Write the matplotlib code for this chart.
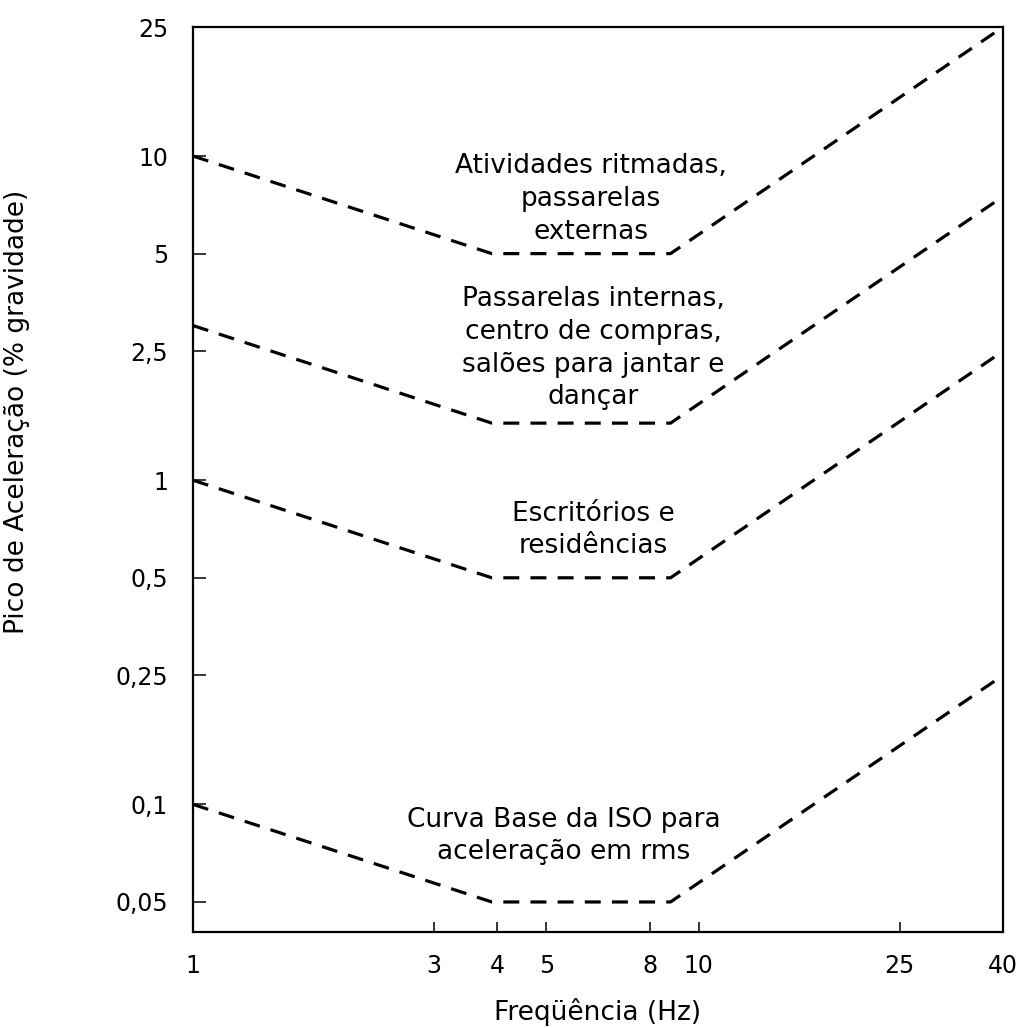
import matplotlib
matplotlib.use("Agg")
import matplotlib.pyplot as plt
from matplotlib.ticker import FixedLocator, FixedFormatter, NullLocator

plt.rcParams['font.family'] = ['DejaVu Sans']

# Frequency breakpoints (Hz) shared by all limit curves
freq = [1, 3.9, 8.8, 40]

# Peak acceleration limits (% of gravity) at each breakpoint
ritmadas = [10, 5, 5, 25]
internas = [3, 1.5, 1.5, 7.5]
escritorios = [1, 0.5, 0.5, 2.5]
iso_base = [0.1, 0.05, 0.05, 0.25]

x_ticks = [1, 3, 4, 5, 8, 10, 25, 40]
x_labels = ['1', '3', '4', '5', '8', '10', '25', '40']
y_ticks = [0.05, 0.1, 0.25, 0.5, 1, 2.5, 5, 10, 25]
y_labels = ['0,05', '0,1', '0,25', '0,5', '1', '2,5', '5', '10', '25']

fig = plt.figure(figsize=(10.25, 10.28), dpi=100)
ax = fig.add_axes([0.1883, 0.0934, 0.7902, 0.8803])

dash = (0, (5, 3.5))
for curve in (ritmadas, internas, escritorios, iso_base):
    ax.plot(freq, curve, color='black', lw=2.3, linestyle=dash,
            solid_capstyle='butt', dash_capstyle='butt', clip_on=False)

ax.set_xscale('log')
ax.set_yscale('log')
ax.set_xlim(1, 40)
ax.set_ylim(0.0404, 25)

ax.xaxis.set_major_locator(FixedLocator(x_ticks))
ax.xaxis.set_major_formatter(FixedFormatter(x_labels))
ax.xaxis.set_minor_locator(NullLocator())
ax.yaxis.set_major_locator(FixedLocator(y_ticks))
ax.yaxis.set_major_formatter(FixedFormatter(y_labels))
ax.yaxis.set_minor_locator(NullLocator())

ax.tick_params(axis='x', direction='in', length=7, width=1.1, pad=16,
               labelsize=17, colors='black')
ax.tick_params(axis='y', direction='in', length=9.5, width=1.1, pad=18,
               labelsize=17, colors='black')

for side in ('left', 'right', 'top', 'bottom'):
    ax.spines[side].set_linewidth(1.6)
    ax.spines[side].set_color('black')

ax.set_xlabel('Freqüência (Hz)', fontsize=19, labelpad=14)
ax.set_ylabel('Pico de Aceleração (% gravidade)', fontsize=19)
ax.yaxis.set_label_coords(-0.201, 0.575)

text_kw = dict(transform=ax.transAxes, ha='center', va='center',
               multialignment='center', fontsize=19, linespacing=1.33)
ax.text(0.491, 0.810, 'Atividades ritmadas,\npassarelas\nexternas', **text_kw)
ax.text(0.494, 0.645, 'Passarelas internas,\ncentro de compras,\n'
        'salões para jantar e\ndançar', **text_kw)
ax.text(0.494, 0.444, 'Escritórios e\nresidências', **text_kw)
ax.text(0.458, 0.106, 'Curva Base da ISO para\naceleração em rms', **text_kw)

fig.savefig('out.png', dpi=100)
